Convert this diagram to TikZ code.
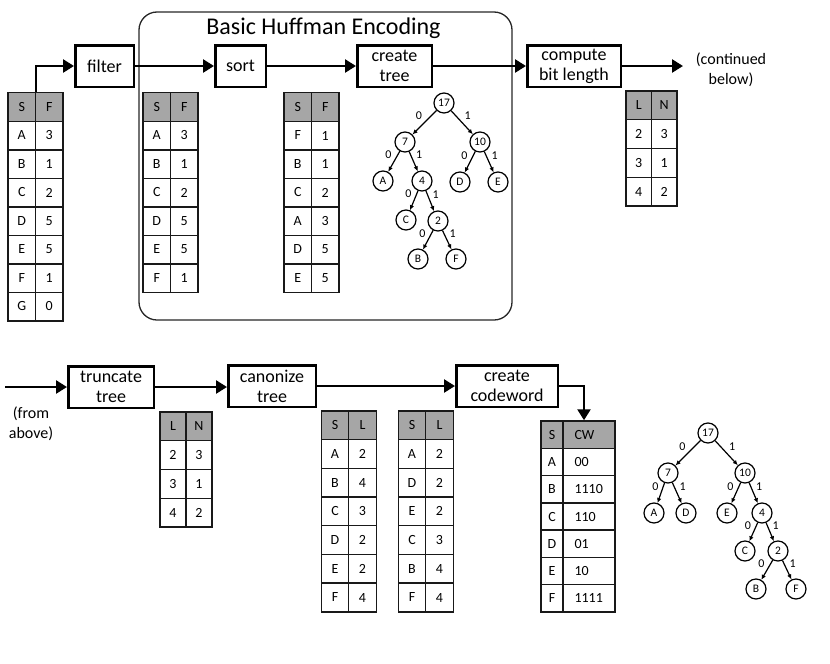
\documentclass[tikz,border=0pt]{standalone}
\usepackage{fontspec}
\setmainfont{Carlito}
\usetikzlibrary{arrows.meta}

\tikzset{
  stepbox/.style={draw, line width=2.5pt, inner sep=0pt, align=center, minimum height=41.5pt, font=\fontsize{18}{20}\selectfont},
  flow/.style={line width=2.5pt, -{Triangle[length=11pt,width=13pt]}},
  cell/.style={draw=black!90, line width=1.4pt, minimum width=#1, minimum height=28.6pt, inner sep=0pt, font=\fontsize{14}{14}\selectfont},
  cell/.default=27.5pt,
  headcell/.style={cell=#1, fill=black!35},
  headcell/.default=27.5pt,
  tnode/.style={circle, draw, line width=1.2pt, minimum size=20pt, inner sep=0pt, font=\fontsize{11.5}{11.5}\selectfont},
  tedge/.style={line width=1.2pt, -{Latex[length=5pt,width=4.5pt]}, auto},
  bit/.style={inner sep=2pt, font=\fontsize{12}{12}\selectfont},
  note/.style={align=center, font=\fontsize{16}{20}\selectfont},
}

\begin{document}
\begin{tikzpicture}[x=1pt, y=-1pt]
  \useasboundingbox (0,0) rectangle (830,664);

  % frame of the basic encoder
  \draw[line width=1.3pt, draw=black!85, rounded corners=18pt] (139,12) rectangle (512,320);
  \node[anchor=base, font=\fontsize{24}{24}\selectfont] (title) at (323.5,34) {Basic Huffman Encoding};

  % steps, top row
  \node[stepbox, minimum width=58.5pt] (filter) at (104.5,66) {filter};
  \node[stepbox, minimum width=50.5pt] (sort) at (240.5,66) {sort};
  \node[stepbox, minimum width=74.5pt] (create) at (394.5,66) {create\\tree};
  \node[stepbox, minimum width=93.5pt] (compute) at (574,66) {compute\\bit length};
  \node[note] (cont) at (731,70) {(continued\\below)};
  \coordinate (contin) at (683,66);

  % steps, bottom row
  \coordinate (fromin) at (5,387);
  \node[note] (from) at (31,424) {(from\\above)};
  \node[stepbox, minimum width=85.5pt] (truncate) at (111,387) {truncate\\tree};
  \node[stepbox, minimum width=87.5pt] (canon) at (272,386) {canonize\\tree};
  \node[stepbox, minimum width=101.5pt] (codeword) at (507,386) {create\\codeword};

  % input table
  \node[headcell] (in-s0) at (21.75,107) {S};
  \node[headcell] (in-f0) at (49.25,107) {F};
  \foreach \s/\f [count=\i] in {A/3,B/1,C/2,D/5,E/5,F/1,G/0} {
    \node[cell] (in-s\i) at (21.75,107+28.5*\i) {\s};
    \node[cell] (in-f\i) at (49.25,107+28.5*\i) {\f};
  }

  % filtered table
  \node[headcell] (flt-s0) at (156.75,107) {S};
  \node[headcell] (flt-f0) at (184.25,107) {F};
  \foreach \s/\f [count=\i] in {A/3,B/1,C/2,D/5,E/5,F/1} {
    \node[cell] (flt-s\i) at (156.75,107+28.5*\i) {\s};
    \node[cell] (flt-f\i) at (184.25,107+28.5*\i) {\f};
  }

  % sorted table
  \node[headcell] (srt-s0) at (297.75,107) {S};
  \node[headcell] (srt-f0) at (325.25,107) {F};
  \foreach \s/\f [count=\i] in {F/1,B/1,C/2,A/3,D/5,E/5} {
    \node[cell] (srt-s\i) at (297.75,107+28.5*\i) {\s};
    \node[cell] (srt-f\i) at (325.25,107+28.5*\i) {\f};
  }

  % bit length table, top
  \node[headcell=25.5pt, minimum height=28.75pt] (bl-l0) at (638.75,105.4) {L};
  \node[headcell=25.5pt, minimum height=28.75pt] (bl-n0) at (664.25,105.4) {N};
  \foreach \l/\n [count=\i] in {2/3,3/1,4/2} {
    \node[cell=25.5pt, minimum height=28.75pt] (bl-l\i) at (638.75,105.4+28.75*\i) {\l};
    \node[cell=25.5pt, minimum height=28.75pt] (bl-n\i) at (664.25,105.4+28.75*\i) {\n};
  }

  % bit length table, after truncation
  \node[headcell=26pt, minimum height=28.75pt] (tr-l0) at (173,426.4) {L};
  \node[headcell=26pt, minimum height=28.75pt] (tr-n0) at (199,426.4) {N};
  \foreach \l/\n [count=\i] in {2/3,3/1,4/2} {
    \node[cell=26pt, minimum height=28.75pt] (tr-l\i) at (173,426.4+28.75*\i) {\l};
    \node[cell=26pt, minimum height=28.75pt] (tr-n\i) at (199,426.4+28.75*\i) {\n};
  }

  % symbol lengths, by symbol
  \node[headcell, minimum height=28.7pt] (sl-s0) at (335,425.3) {S};
  \node[headcell, minimum height=28.7pt] (sl-l0) at (362.5,425.3) {L};
  \foreach \s/\l [count=\i] in {A/2,B/4,C/3,D/2,E/2,F/4} {
    \node[cell, minimum height=28.7pt] (sl-s\i) at (335,425.3+28.7*\i) {\s};
    \node[cell, minimum height=28.7pt] (sl-l\i) at (362.5,425.3+28.7*\i) {\l};
  }

  % symbol lengths, canonical order
  \node[headcell, minimum height=28.7pt] (cn-s0) at (412,425.3) {S};
  \node[headcell, minimum height=28.7pt] (cn-l0) at (439.5,425.3) {L};
  \foreach \s/\l [count=\i] in {A/2,D/2,E/2,C/3,B/4,F/4} {
    \node[cell, minimum height=28.7pt] (cn-s\i) at (412,425.3+28.7*\i) {\s};
    \node[cell, minimum height=28.7pt] (cn-l\i) at (439.5,425.3+28.7*\i) {\l};
  }

  % codeword table
  \node[headcell=22pt, minimum height=27.3pt] (cw-s0) at (552,434.6) {S};
  \node[headcell=52pt, minimum height=27.3pt, text width=29pt] (cw-c0) at (589,434.6) {CW};
  \foreach \s/\c [count=\i] in {A/00,B/1110,C/110,D/01,E/10,F/1111} {
    \node[cell=22pt, minimum height=27.3pt] (cw-s\i) at (552,434.6+27.3*\i) {\s};
    \node[cell=52pt, minimum height=27.3pt, text width=29pt] (cw-c\i) at (589,434.6+27.3*\i) {\c};
  }

  % flow arrows
  \draw[flow] (in-s0.north east) |- (filter.west);
  \draw[flow] (filter) -- (sort);
  \draw[flow] (sort) -- (create);
  \draw[flow] (create) -- (compute);
  \draw[flow] (compute) -- (contin);
  \draw[flow] (fromin) -- (truncate.west);
  \draw[flow] (truncate.east) -- (canon.west |- truncate.east);
  \draw[flow] (canon) -- (codeword);
  \draw[flow] (codeword.east) -| ([xshift=-5pt]cw-c0.north);

  % huffman tree
  \node[tnode] (ha17) at (444,103) {17};
  \node[tnode] (ha7) at (405,142) {7};
  \node[tnode] (ha10) at (480,142) {10};
  \node[tnode] (haA) at (383,181) {A};
  \node[tnode] (ha4) at (422,181) {4};
  \node[tnode] (haD) at (460,182) {D};
  \node[tnode] (haE) at (498,182) {E};
  \node[tnode] (haC) at (406,220) {C};
  \node[tnode] (ha2) at (438,221) {2};
  \node[tnode] (haB) at (418,259) {B};
  \node[tnode] (haF) at (456,259) {F};
  \draw[tedge] (ha17) -- node[bit, swap] {0} (ha7);
  \draw[tedge] (ha17) -- node[bit] {1} (ha10);
  \draw[tedge] (ha7) -- node[bit, swap] {0} (haA);
  \draw[tedge] (ha7) -- node[bit] {1} (ha4);
  \draw[tedge] (ha10) -- node[bit, swap] {0} (haD);
  \draw[tedge] (ha10) -- node[bit] {1} (haE);
  \draw[tedge] (ha4) -- node[bit, swap] {0} (haC);
  \draw[tedge] (ha4) -- node[bit] {1} (ha2);
  \draw[tedge] (ha2) -- node[bit, swap] {0} (haB);
  \draw[tedge] (ha2) -- node[bit] {1} (haF);

  % canonical tree
  \node[tnode] (hb17) at (708,433) {17};
  \node[tnode] (hb7) at (668,473) {7};
  \node[tnode] (hb10) at (745,473) {10};
  \node[tnode] (hbA) at (654,513) {A};
  \node[tnode] (hbD) at (686,513) {D};
  \node[tnode] (hbE) at (727,513) {E};
  \node[tnode] (hb4) at (762,513) {4};
  \node[tnode] (hbC) at (745,551) {C};
  \node[tnode] (hb2) at (778,551) {2};
  \node[tnode] (hbB) at (756,589) {B};
  \node[tnode] (hbF) at (796,589) {F};
  \draw[tedge] (hb17) -- node[bit, swap] {0} (hb7);
  \draw[tedge] (hb17) -- node[bit] {1} (hb10);
  \draw[tedge] (hb7) -- node[bit, swap] {0} (hbA);
  \draw[tedge] (hb7) -- node[bit] {1} (hbD);
  \draw[tedge] (hb10) -- node[bit, swap] {0} (hbE);
  \draw[tedge] (hb10) -- node[bit] {1} (hb4);
  \draw[tedge] (hb4) -- node[bit, swap] {0} (hbC);
  \draw[tedge] (hb4) -- node[bit] {1} (hb2);
  \draw[tedge] (hb2) -- node[bit, swap] {0} (hbB);
  \draw[tedge] (hb2) -- node[bit] {1} (hbF);
\end{tikzpicture}
\end{document}
